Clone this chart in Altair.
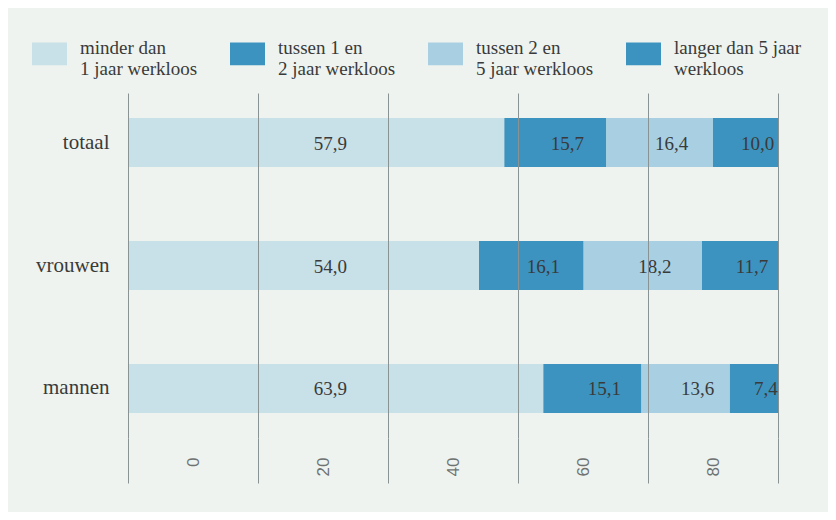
import altair as alt
import pandas as pd

categories = ["totaal", "vrouwen", "mannen"]
series = [
    "minder dan|1 jaar werkloos",
    "tussen 1 en|2 jaar werkloos",
    "tussen 2 en|5 jaar  werkloos",
    "langer dan 5 jaar|werkloos",
]
v_lt1 = [57.9, 54.0, 63.9]
v_1to2 = [15.7, 16.1, 15.1]
v_2to5 = [16.4, 18.2, 13.6]
v_gt5 = [10.0, 11.7, 7.4]
x_ticks = [0, 20, 40, 60, 80, 100]
colors = ["#c8e0e8", "#3d93bf", "#a9d0e2", "#3d93bf"]

all_vals = [v_lt1, v_1to2, v_2to5, v_gt5]
rows = []
for ci, cat in enumerate(categories):
    for si, s in enumerate(series):
        rows.append({"cat": cat, "series": s, "order": si, "value": all_vals[si][ci]})
df = pd.DataFrame(rows)

FONT = "Liberation Serif"
TXT = "#3a3a3a"
GRID = "#8a9393"

base = alt.Chart(df).transform_stack(
    stack="value",
    groupby=["cat"],
    as_=["start", "end"],
    sort=[alt.SortField("order", order="ascending")],
)

y_enc = alt.Y(
    "cat:N",
    sort=categories,
    title=None,
    scale=alt.Scale(paddingInner=0.6016, paddingOuter=0.2033),
    axis=alt.Axis(
        ticks=False,
        domain=False,
        labelFont=FONT,
        labelFontSize=21,
        labelColor=TXT,
        labelPadding=19,
    ),
)

bars = base.mark_bar().encode(
    y=y_enc,
    x=alt.X(
        "start:Q",
        title=None,
        scale=alt.Scale(domain=[0, 100], nice=False),
        axis=alt.Axis(
            values=x_ticks,
            grid=True,
            gridColor=GRID,
            gridWidth=1,
            ticks=True,
            tickSize=45,
            tickColor=GRID,
            tickWidth=1,
            domain=False,
            labelAngle=270,
            labelAlign="right",
            labelBaseline="middle",
            labelOffset=65,
            labelPadding=-26,
            labelExpr="datum.value == 100 ? '' : datum.label",
            labelFont="Liberation Sans",
            labelFontSize=17,
            labelColor="#6e7272",
            labelFlush=False,
            labelOverlap=False,
            zindex=1,
        ),
    ),
    x2="end:Q",
    color=alt.Color(
        "series:N",
        sort=series,
        scale=alt.Scale(domain=series, range=colors),
        legend=alt.Legend(
            title=None,
            orient="none",
            legendX=-96,
            legendY=-63,
            direction="horizontal",
            columns=4,
            gridAlign="all",
            columnPadding=22,
            symbolType="M-1,-0.307H1V1.007H-1Z",
            symbolSize=1225,
            symbolStrokeWidth=0,
            symbolOpacity=1,
            labelFont=FONT,
            labelFontSize=19,
            labelColor=TXT,
            labelExpr="split(datum.label, '|')",
            labelLimit=300,
            labelOffset=13,
        ),
    ),
)

labels = (
    base.transform_calculate(
        mid="(datum.start + datum.end) / 2",
        lab="replace(format(datum.value, '.1f'), '.', ',')",
    )
    .transform_joinaggregate(meanmid="mean(mid)", groupby=["series"])
    .transform_calculate(lx="datum.order == 0 ? datum.meanmid : datum.mid")
    .mark_text(font=FONT, fontSize=19, color=TXT, dx=12, dy=1)
    .encode(
        y=alt.Y("cat:N", sort=categories, title=None),
        x=alt.X("lx:Q", title=None),
        text="lab:N",
    )
)

chart = (
    alt.layer(bars, labels)
    .properties(
        width=650,
        height=345,
        padding={"left": 120, "top": 85, "right": 50, "bottom": 74},
        autosize=alt.AutoSizeParams(type="none"),
    )
    .configure(background="#eef3ef", font=FONT)
    .configure_legend(labelFont=FONT)
    .configure_axisY(labelFont=FONT)
    .configure_axisX(labelFont="Liberation Sans")
    .configure_view(stroke=None)
)

chart.save("out.html", embed_options={"renderer": "svg", "actions": False})
